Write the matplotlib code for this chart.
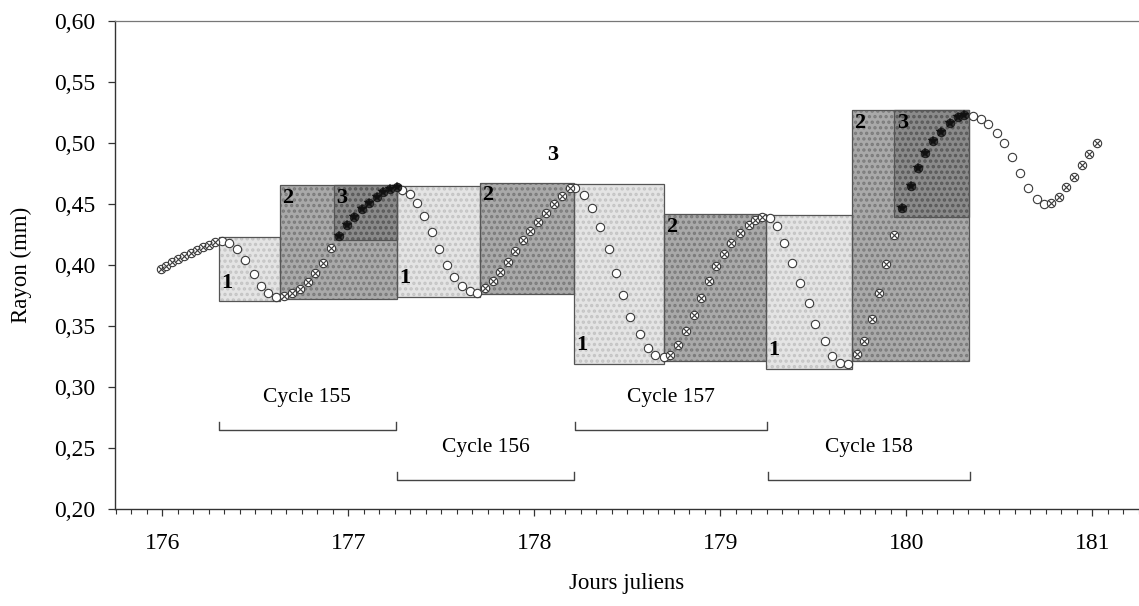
import matplotlib
matplotlib.use('Agg')
import matplotlib.pyplot as plt
from matplotlib.patches import Rectangle
from matplotlib.ticker import MultipleLocator, FuncFormatter

plt.rcParams['font.family'] = ['Liberation Serif', 'DejaVu Serif']
plt.rcParams['hatch.linewidth'] = 1.6

# points ouverts (phase 1 : contraction)
x_ouverts = [176.318, 176.360, 176.403, 176.446, 176.490, 176.530, 176.570, 176.613,
             177.288, 177.329, 177.369, 177.407, 177.447, 177.487, 177.528, 177.568, 177.609, 177.651, 177.693,
             178.219, 178.264, 178.309, 178.353, 178.398, 178.440, 178.476, 178.515, 178.565, 178.608, 178.649, 178.694,
             179.268, 179.304, 179.343, 179.385, 179.429, 179.474, 179.510, 179.564, 179.600, 179.644, 179.684,
             180.358, 180.398, 180.437, 180.484, 180.523, 180.568, 180.609, 180.654, 180.699, 180.738]
y_ouverts = [0.4197, 0.4175, 0.4129, 0.4038, 0.3924, 0.3830, 0.3772, 0.3740,
             0.4612, 0.4579, 0.4503, 0.4399, 0.4268, 0.4126, 0.3998, 0.3902, 0.3826, 0.3787, 0.3766,
             0.4631, 0.4571, 0.4467, 0.4311, 0.4129, 0.3930, 0.3752, 0.3574, 0.3430, 0.3320, 0.3260, 0.3247,
             0.4380, 0.4317, 0.4175, 0.4016, 0.3853, 0.3684, 0.3514, 0.3378, 0.3252, 0.3192, 0.3187,
             0.5218, 0.5191, 0.5152, 0.5076, 0.4994, 0.4880, 0.4749, 0.4626, 0.4536, 0.4495]

# points barrés (phase 2 : expansion)
x_croix = [175.990, 176.019, 176.052, 176.085, 176.118, 176.151, 176.183, 176.216, 176.249, 176.282,
           176.656, 176.697, 176.737, 176.780, 176.821, 176.863, 176.906,
           177.735, 177.775, 177.816, 177.856, 177.896, 177.937, 177.977, 178.020, 178.063, 178.106, 178.149, 178.192,
           178.726, 178.769, 178.816, 178.855, 178.897, 178.936, 178.977, 179.017, 179.058, 179.107, 179.151, 179.187, 179.223,
           179.734, 179.774, 179.815, 179.851, 179.892, 179.931,
           180.778, 180.819, 180.860, 180.899, 180.945, 180.980, 181.022]
y_croix = [0.3965, 0.3993, 0.4022, 0.4047, 0.4071, 0.4096, 0.4120, 0.4145, 0.4165, 0.4186,
           0.3748, 0.3768, 0.3805, 0.3858, 0.3932, 0.4018, 0.4137,
           0.3809, 0.3866, 0.3940, 0.4022, 0.4112, 0.4202, 0.4276, 0.4350, 0.4428, 0.4497, 0.4567, 0.4628,
           0.3260, 0.3342, 0.3457, 0.3588, 0.3730, 0.3866, 0.3992, 0.4085, 0.4175, 0.4257, 0.4325, 0.4366, 0.4393,
           0.3269, 0.3378, 0.3553, 0.3771, 0.4006, 0.4243,
           0.4508, 0.4557, 0.4634, 0.4721, 0.4817, 0.4907, 0.4999]

# points pleins (phase 3)
x_pleins = [176.947, 176.990, 177.030, 177.072, 177.111, 177.152, 177.188, 177.224, 177.260,
            179.976, 180.025, 180.060, 180.102, 180.143, 180.186, 180.232, 180.275, 180.311]
y_pleins = [0.4239, 0.4329, 0.4393, 0.4456, 0.4509, 0.4554, 0.4595, 0.4624, 0.4640,
            0.4462, 0.4645, 0.4790, 0.4912, 0.5016, 0.5089, 0.5163, 0.5207, 0.5226]

# rectangles des phases
box_x0 = [176.304, 176.632, 176.923, 177.260, 177.708, 178.214, 178.698, 179.246, 179.709, 179.935]
box_x1 = [176.632, 177.260, 177.260, 177.708, 178.214, 178.698, 179.246, 179.709, 180.338, 180.338]
box_y0 = [0.3703, 0.3720, 0.4202, 0.3738, 0.3760, 0.3190, 0.3210, 0.3150, 0.3210, 0.4388]
box_y1 = [0.4227, 0.4653, 0.4653, 0.4645, 0.4670, 0.4659, 0.4413, 0.4407, 0.5267, 0.5267]
box_phase = [1, 2, 3, 1, 2, 1, 2, 1, 2, 3]

# cycles
cycles = ['Cycle 155', 'Cycle 156', 'Cycle 157', 'Cycle 158']
cycle_debut = [176.304, 177.261, 178.219, 179.257]
cycle_fin = [177.253, 178.214, 179.251, 180.343]
cycle_y = [0.2646, 0.2237, 0.2646, 0.2237]

fig = plt.figure(figsize=(11.39, 6.06), dpi=100)
ax = fig.add_axes([0.101, 0.160, 0.899, 0.806])

fill = {1: '#e4e4e4', 2: '#a9a9a9', 3: '#8a8a8a'}
dots = {1: '#c4c4c4', 2: '#7a7a7a', 3: '#5a5a5a'}
for x0, x1, y0, y1, ph in zip(box_x0, box_x1, box_y0, box_y1, box_phase):
    ax.add_patch(Rectangle((x0, y0), x1 - x0, y1 - y0, facecolor=fill[ph],
                           edgecolor='none', zorder=1))
    ax.add_patch(Rectangle((x0, y0), x1 - x0, y1 - y0, fill=False, hatch='...',
                           edgecolor=dots[ph], lw=0, zorder=1.1))
    ax.add_patch(Rectangle((x0, y0), x1 - x0, y1 - y0, fill=False,
                           edgecolor='#555555', lw=0.9, zorder=1.2))
    if ph == 1:
        ax.text(x0 + 0.012, y0 + 0.011, '1', fontsize=16, fontweight='bold',
                ha='left', va='baseline', zorder=3)
    else:
        ax.text(x0 + 0.012, y1 - 0.002, str(ph), fontsize=16, fontweight='bold',
                ha='left', va='top', zorder=3)

# « 3 » isolé du cycle 156
ax.text(178.10, 0.4898, '3', fontsize=16, fontweight='bold', ha='center', va='center')

ax.plot(x_ouverts, y_ouverts, 'o', ms=6, mfc='white', mec='#3a3a3a', mew=0.8, zorder=4)
ax.plot(x_croix, y_croix, 'o', ms=6, mfc='white', mec='#3a3a3a', mew=0.8, zorder=4)
ax.plot(x_croix, y_croix, 'x', ms=4, color='#3a3a3a', mew=0.8, zorder=5)
ax.plot(x_pleins, y_pleins, 'o', ms=6, mfc='#3a3a3a', mec='#222222', mew=0.8, zorder=4)
ax.plot(x_pleins, y_pleins, '*', ms=7.5, color='#111111', mew=0.3, zorder=5)

for nom, d, f, yc in zip(cycles, cycle_debut, cycle_fin, cycle_y):
    ax.plot([d, d, f, f], [yc + 0.007, yc, yc, yc + 0.007], color='#444444', lw=1.0)
    ax.text((d + f) / 2, yc + 0.027, nom, fontsize=15.5, ha='center', va='center')

ax.set_xlim(175.745, 181.25)
ax.set_ylim(0.20, 0.60)
ax.xaxis.set_major_locator(MultipleLocator(1))
ax.xaxis.set_minor_locator(MultipleLocator(1 / 12))
ax.yaxis.set_major_locator(MultipleLocator(0.05))
ax.yaxis.set_major_formatter(FuncFormatter(lambda v, p: f"{v:.2f}".replace('.', ',')))

ax.tick_params(axis='both', which='major', direction='out', length=5, width=0.9,
               labelsize=17, color='#333333')
ax.tick_params(axis='x', which='minor', direction='out', length=3.5, width=0.8, color='#333333')
ax.tick_params(axis='x', which='major', pad=12)
ax.tick_params(axis='y', which='major', pad=9)

ax.spines['right'].set_visible(False)
ax.spines['top'].set_color('#777777')
ax.spines['top'].set_linewidth(0.9)
for s in ('left', 'bottom'):
    ax.spines[s].set_color('#333333')
    ax.spines[s].set_linewidth(1.0)

ax.set_xlabel('Jours juliens', fontsize=16.5, labelpad=14)
ax.set_ylabel('Rayon (mm)', fontsize=16.5, labelpad=16)

fig.savefig('out.png', dpi=100)
